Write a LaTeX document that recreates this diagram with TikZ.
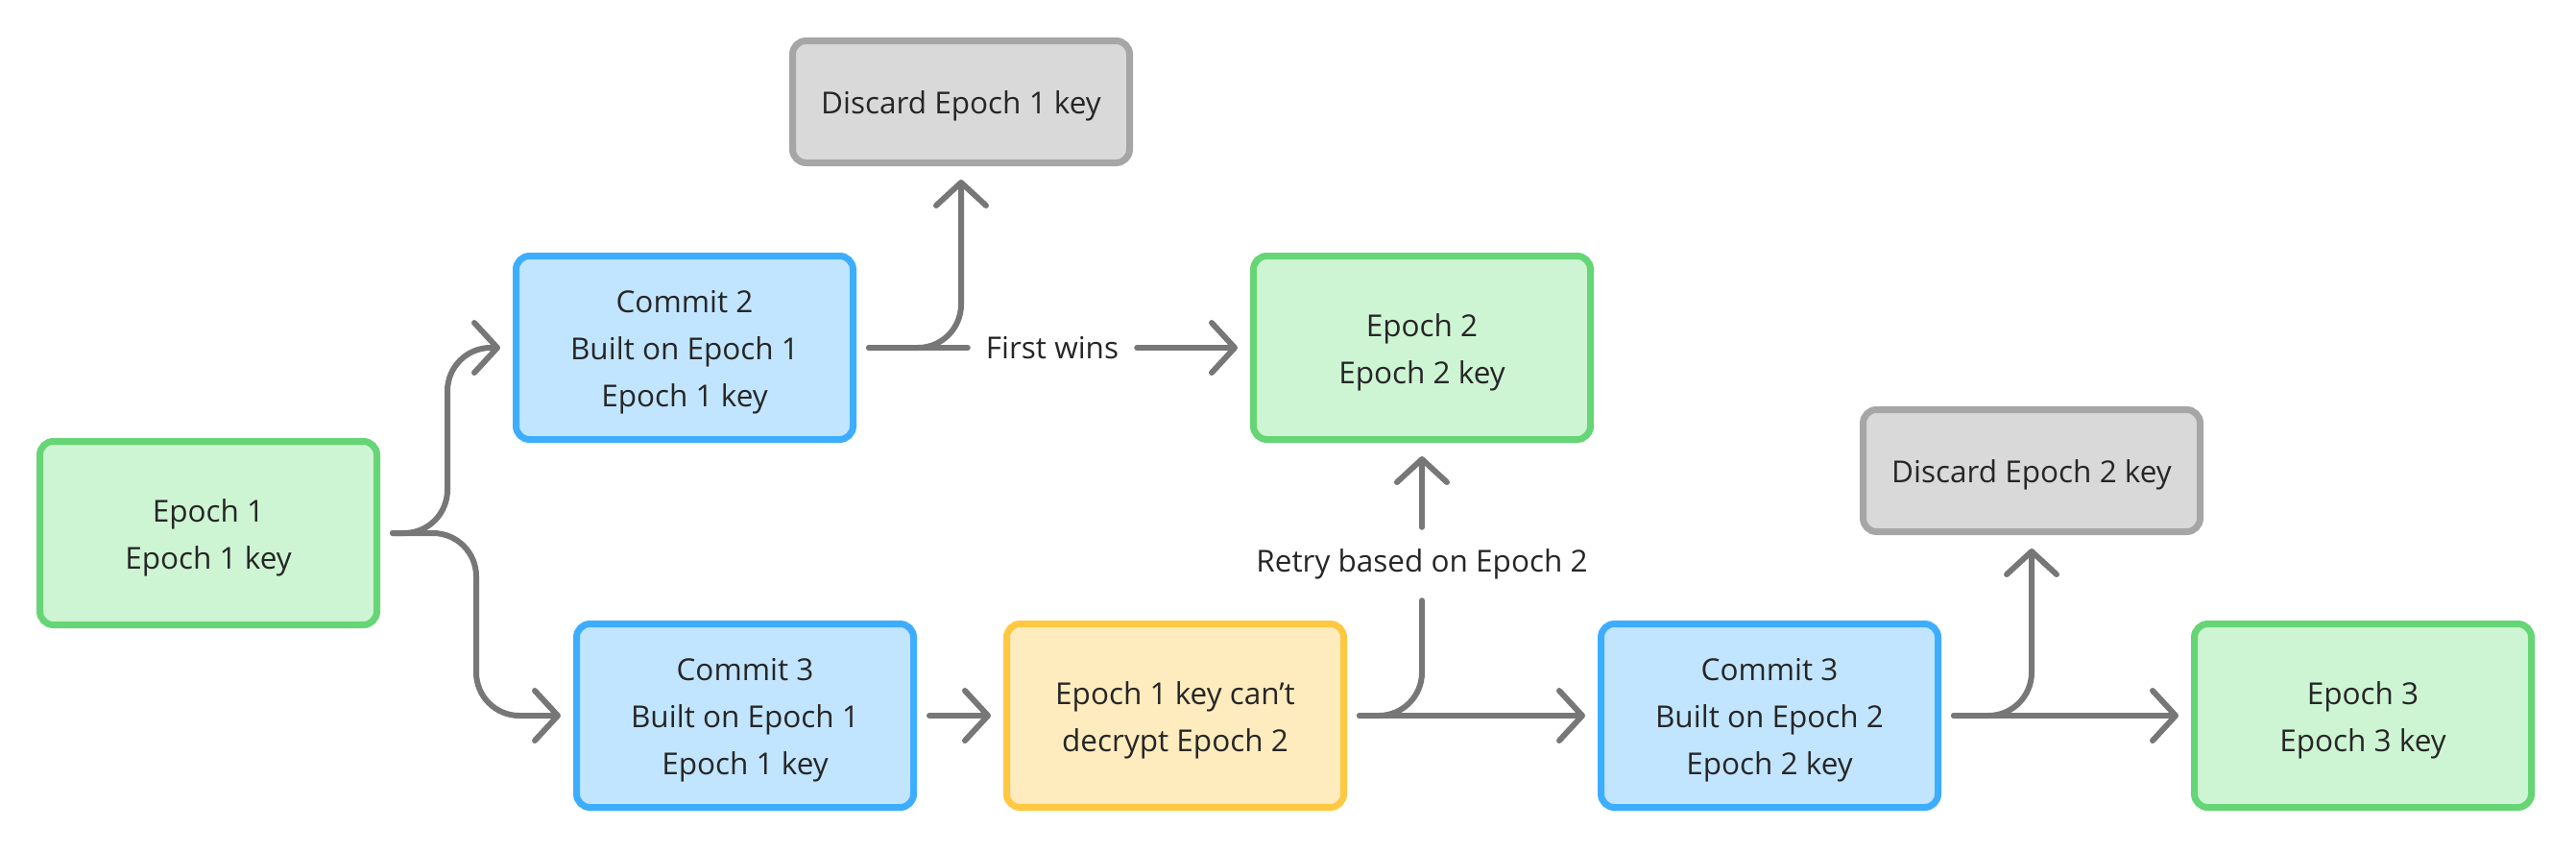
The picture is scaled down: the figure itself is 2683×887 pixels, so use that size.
\documentclass[tikz,border=0pt]{standalone}
\usepackage{fontspec}
\setmainfont{Open Sans}
\usetikzlibrary{arrows.meta,calc}
\definecolor{gfill}{HTML}{CEF5D3}
\definecolor{gdraw}{HTML}{66D575}
\definecolor{bfill}{HTML}{C2E5FF}
\definecolor{bdraw}{HTML}{3DADFF}
\definecolor{yfill}{HTML}{FFECBE}
\definecolor{ydraw}{HTML}{FFC843}
\definecolor{kfill}{HTML}{D9D9D9}
\definecolor{kdraw}{HTML}{A6A6A6}
\definecolor{lgray}{HTML}{777777}
\definecolor{txt}{HTML}{262626}
\newcommand{\toppad}{\rule{0pt}{33pt}}
\begin{document}
\begin{tikzpicture}[x=1pt,y=-1pt,
  box/.style={rounded corners=14pt, line width=7pt, minimum width=351pt, minimum height=191pt, inner sep=0pt, align=center, text=txt, font=\fontsize{31.5}{49}\selectfont},
  smallbox/.style={box, minimum height=127pt},
  green/.style={fill=gfill, draw=gdraw},
  blue/.style={fill=bfill, draw=bdraw},
  yellow/.style={fill=yfill, draw=ydraw},
  grey/.style={fill=kfill, draw=kdraw},
  lbl/.style={inner sep=0pt, text=txt, font=\fontsize{31.5}{36}\selectfont},
  conn/.style={draw=lgray, line width=6pt, line cap=round, line join=round, rounded corners=45pt},
  arr/.style={conn, -{Straight Barb[length=24pt,width=52pt,round]}}]
\useasboundingbox (0,0) rectangle (2683,887);
\node[box,green] (e1) at (217,555) {\toppad Epoch 1\\Epoch 1 key};
\node[box,blue] (c2) at (713,362) {\toppad Commit 2\\Built on Epoch 1\\Epoch 1 key};
\node[smallbox,grey] (d1) at (1001,106) {\toppad Discard Epoch 1 key};
\node[box,green] (e2) at (1481,362) {\toppad Epoch 2\\Epoch 2 key};
\node[smallbox,grey] (d2) at (2116,490) {\toppad Discard Epoch 2 key};
\node[box,blue] (c3a) at (776,745) {\toppad Commit 3\\Built on Epoch 1\\Epoch 1 key};
\node[box,yellow] (k1) at (1224,745) {\toppad Epoch 1 key can’t\\decrypt Epoch 2};
\node[box,blue] (c3b) at (1843,745) {\toppad Commit 3\\Built on Epoch 2\\Epoch 2 key};
\node[box,green] (e3) at (2461,745) {\toppad Epoch 3\\Epoch 3 key};
\node[lbl, minimum width=176pt] (fw) at (1096,362) {First wins};
\node[lbl, minimum height=76pt] (rt) at (1481,587) {Retry based on Epoch 2};
% coordinates
\coordinate (s1) at ($(e1.east)+(13,0)$);
\coordinate (s2) at ($(c2.east)+(13,0)$);
\coordinate (s3) at ($(k1.east)+(13,0)$);
\coordinate (s4) at ($(c3b.east)+(13,0)$);
\coordinate (s5) at ($(c3a.east)+(13,0)$);
% connectors
\draw[arr] (s1) -- ++(57,0) |- ($(c2.west)+(-13,0)$);
\draw[arr] (s1) -- ++(87,0) |- ($(c3a.west)+(-13,0)$);
\draw[conn] (s2) -- (fw.west);
\draw[arr] (fw.east) -- ($(e2.west)+(-13,0)$);
\draw[arr] (s2) -| ($(d1.south)+(0,14)$);
\draw[arr] (s5) -- ($(k1.west)+(-13,0)$);
\draw[arr] (s3) -- ($(c3b.west)+(-13,0)$);
\draw[conn] (s3) -| (rt.south);
\draw[arr] (rt.north) -- ($(e2.south)+(0,14)$);
\draw[arr] (s4) -- ($(e3.west)+(-13,0)$);
\draw[arr] (s4) -| ($(d2.south)+(0,14)$);
\end{tikzpicture}
\end{document}
